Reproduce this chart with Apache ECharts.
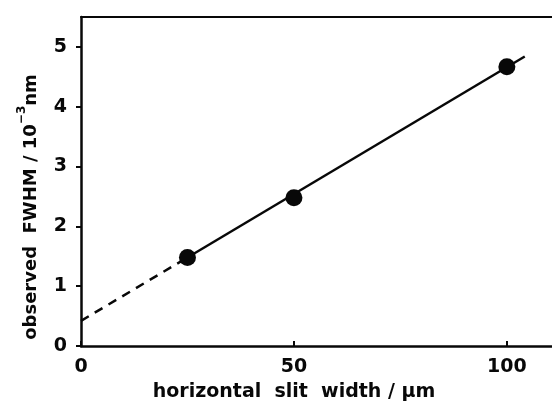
<!DOCTYPE html>
<html><head><meta charset="utf-8">
<script src="https://cdn.jsdelivr.net/npm/echarts@6/dist/echarts.min.js"></script>
<style>html,body{margin:0;padding:0;background:#fff}#c{width:552px;height:403px}</style>
</head><body><div id="c"></div>
<script>
// measured points
const slitWidth = [25, 50, 100];
const fwhm = [1.48, 2.48, 4.67];
// fitted line (solid part) and extrapolation (dashed part)
const fitSolid = [[25, 1.48], [104.2, 4.84]];
const fitDashed = [[0, 0.42], [25, 1.48]];
const xTicks = [0, 50, 100];
const yTicks = [0, 1, 2, 3, 4, 5];

const F = '"DejaVu Sans", sans-serif';
const ink = '#080808';
const chart = echarts.init(document.getElementById('c'), null, {renderer: 'canvas'});
chart.setOption({
  animation: false,
  backgroundColor: '#fff',
  grid: {left: 81, top: 17, right: 0, bottom: 57, containLabel: false},
  xAxis: [{
    type: 'value', min: 0, max: 110.6,
    axisLine: {show: true, onZero: false, lineStyle: {color: ink, width: 2.5}},
    axisTick: {show: true, inside: true, length: 5, customValues: xTicks, lineStyle: {color: ink, width: 2}},
    splitLine: {show: false},
    axisLabel: {color: ink, fontFamily: F, fontWeight: 'bold', fontSize: 19, margin: 12,
      customValues: xTicks}
  }, {
    type: 'value', position: 'top', min: 0, max: 110.6,
    axisLine: {show: true, onZero: false, lineStyle: {color: ink, width: 2}},
    axisTick: {show: false}, axisLabel: {show: false}, splitLine: {show: false}
  }],
  yAxis: {
    type: 'value', min: 0, max: 5.5,
    axisLine: {show: true, onZero: false, lineStyle: {color: ink, width: 2.5}},
    axisTick: {show: true, length: 5, customValues: yTicks, lineStyle: {color: ink, width: 2}},
    splitLine: {show: false},
    axisLabel: {color: ink, fontFamily: F, fontWeight: 'bold', fontSize: 19, margin: 14,
      customValues: yTicks}
  },
  graphic: [{
    type: 'text', x: 294, y: 392,
    style: {text: 'horizontal  slit  width / µm', font: 'bold 19px ' + F, fill: ink,
      textAlign: 'center', textVerticalAlign: 'middle'}
  }, {
    type: 'text', x: 28, y: 207, rotation: Math.PI / 2,
    style: {
      text: '{a|observed  FWHM / 10}{s|−3}{a|nm}',
      textAlign: 'center', textVerticalAlign: 'middle', fill: ink,
      rich: {
        a: {font: 'bold 18px ' + F, fill: ink, verticalAlign: 'bottom', lineHeight: 25},
        s: {font: 'bold 12px ' + F, fill: ink, verticalAlign: 'top', lineHeight: 25}
      }
    }
  }],
  series: [{
    type: 'line', data: fitDashed, symbol: 'none',
    lineStyle: {color: ink, width: 2.5, type: [9, 7]}, z: 2
  }, {
    type: 'line', data: fitSolid, symbol: 'none',
    lineStyle: {color: ink, width: 2.5}, z: 2
  }, {
    type: 'scatter', data: slitWidth.map((x, i) => [x, fwhm[i]]),
    symbol: 'circle', symbolSize: 17, itemStyle: {color: ink, opacity: 1}, z: 3
  }]
});
</script></body></html>
